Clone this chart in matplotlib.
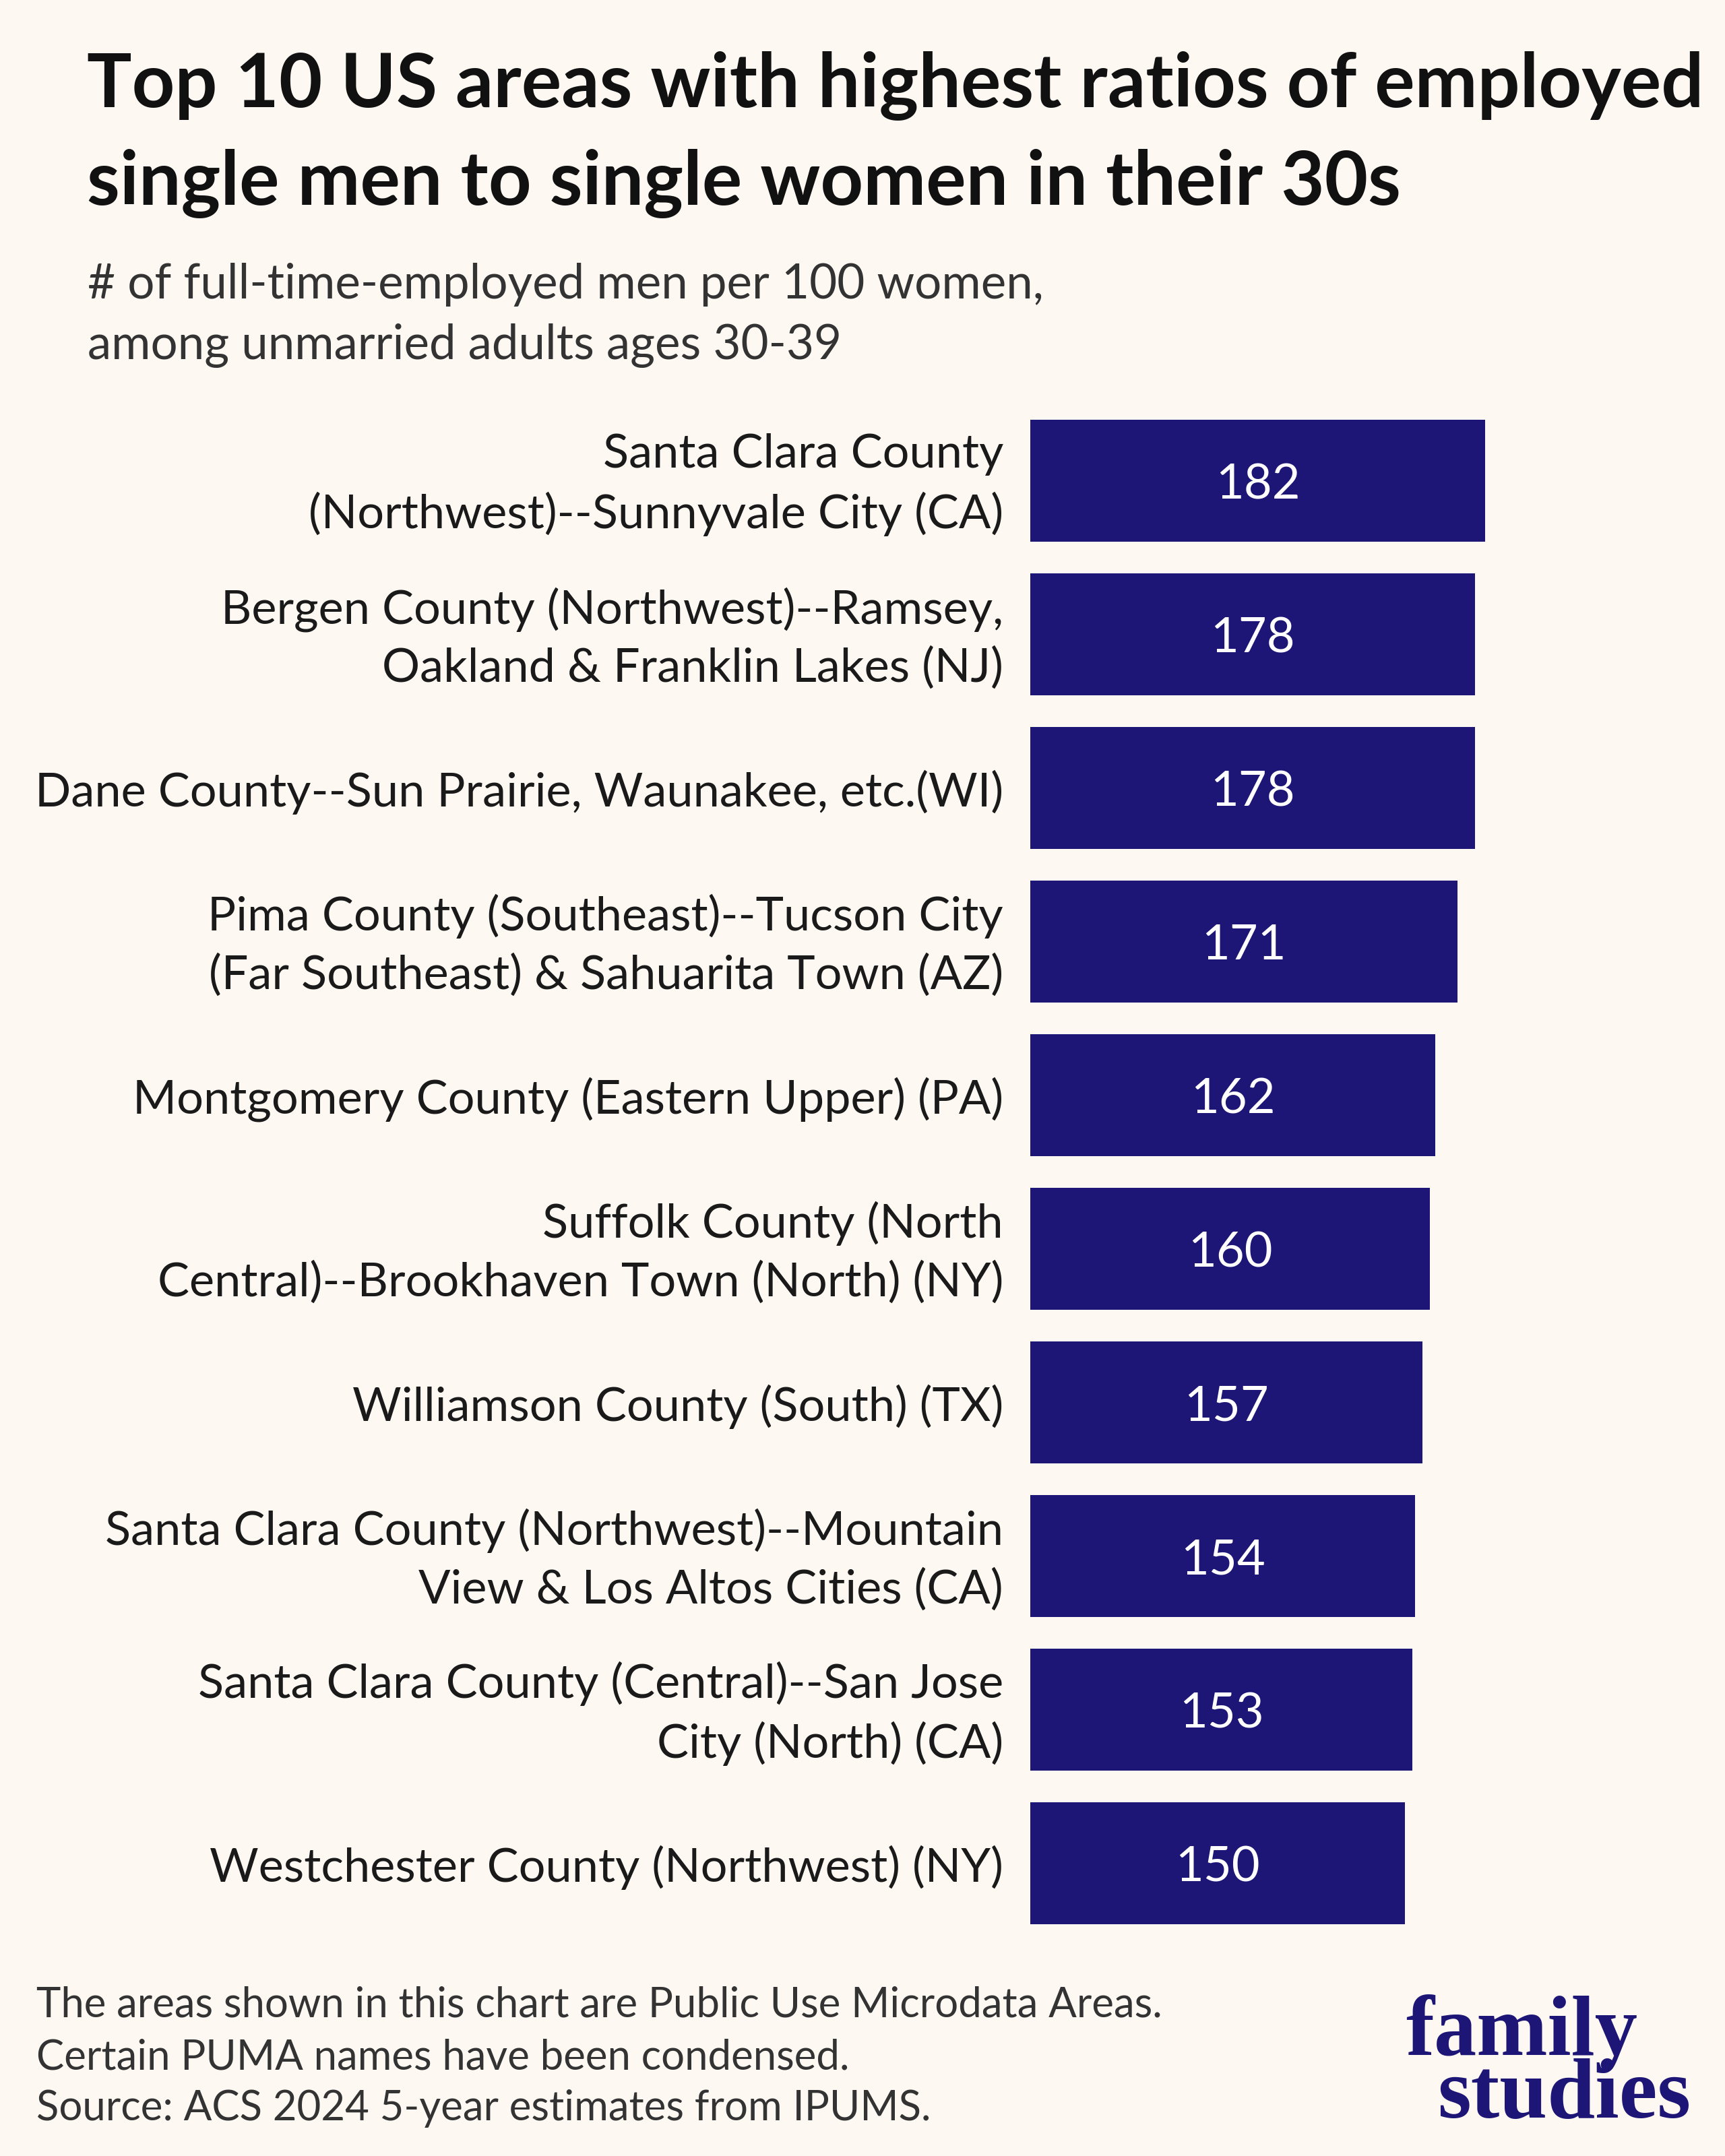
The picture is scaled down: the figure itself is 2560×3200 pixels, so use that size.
import matplotlib
matplotlib.use("Agg")
import matplotlib.pyplot as plt

categories = [
    "Santa Clara County\n(Northwest)--Sunnyvale City (CA)",
    "Bergen County (Northwest)--Ramsey,\nOakland & Franklin Lakes (NJ)",
    "Dane County--Sun Prairie, Waunakee, etc.(WI)",
    "Pima County (Southeast)--Tucson City\n(Far Southeast) & Sahuarita Town (AZ)",
    "Montgomery County (Eastern Upper) (PA)",
    "Suffolk County (North\nCentral)--Brookhaven Town (North) (NY)",
    "Williamson County (South) (TX)",
    "Santa Clara County (Northwest)--Mountain\nView & Los Altos Cities (CA)",
    "Santa Clara County (Central)--San Jose\nCity (North) (CA)",
    "Westchester County (Northwest) (NY)",
]
values = [182, 178, 178, 171, 162, 160, 157, 154, 153, 150]

title_lines = ["Top 10 US areas with highest ratios of employed",
               "single men to single women in their 30s"]
subtitle_lines = ["# of full-time-employed men per 100 women,",
                  "among unmarried adults ages 30-39"]
footer_lines = ["The areas shown in this chart are Public Use Microdata Areas.",
                "Certain PUMA names have been condensed.",
                "Source: ACS 2024 5-year estimates from IPUMS."]

BG = "#fef8f3"
BAR = "#1d1676"
W, H = 2560, 3200
DPI = 100
PT = 72 / DPI  # points per pixel

plt.rcParams['font.family'] = ['Lato', 'DejaVu Sans']
fig = plt.figure(figsize=(W / DPI, H / DPI), dpi=DPI, facecolor=BG)

px_per_unit = 3.709
left_px = 1529
xmax = 200
ax_w_px = xmax * px_per_unit
top_px, bot_px = 599.5, 2879.5
ax = fig.add_axes([left_px / W, 1 - bot_px / H, ax_w_px / W, (bot_px - top_px) / H])
ax.set_facecolor(BG)
ax.set_xlim(0, xmax)
ax.set_ylim(len(values) - 0.5, -0.5)
ypos = list(range(len(values)))
ax.barh(ypos, values, height=0.794, color=BAR)
for s in ax.spines.values():
    s.set_visible(False)
ax.set_xticks([])
ax.set_yticks([])

for y, v, lab in zip(ypos, values, categories):
    ax.annotate(str(v), xy=(v / 2, y), xytext=(0, -27 * PT), textcoords='offset points',
                ha='center', va='baseline', color='white', fontsize=52)
    ax.annotate(lab, xy=(0, y), xytext=(-40 * PT, -6 * PT), textcoords='offset points',
                ha='right', va='center', multialignment='right', fontsize=50.6,
                color='#1a1a1a', linespacing=1.42)

def fy(p):
    return 1 - p / H

fig.text(129 / W, fy(159), title_lines[0], fontsize=80, fontweight='bold', color='#111111', va='baseline')
fig.text(129 / W, fy(304), title_lines[1], fontsize=80, fontweight='bold', color='#111111', va='baseline')
fig.text(130 / W, fy(443), subtitle_lines[0], fontsize=51, color='#333333', va='baseline')
fig.text(130 / W, fy(533), subtitle_lines[1], fontsize=51, color='#333333', va='baseline')
for line, b in zip(footer_lines, [2994, 3071, 3147]):
    fig.text(54 / W, fy(b), line, fontsize=44.5, color='#333333', va='baseline')

fig.text(2086 / W, fy(3050), "family", fontsize=91, fontweight='bold', color=BAR,
         va='baseline', family=['Liberation Serif', 'DejaVu Serif'])
fig.text(2133 / W, fy(3143), "studies", fontsize=92, fontweight='bold', color=BAR,
         va='baseline', family=['Liberation Serif', 'DejaVu Serif'])

fig.savefig("out.png", dpi=DPI, facecolor=BG)
